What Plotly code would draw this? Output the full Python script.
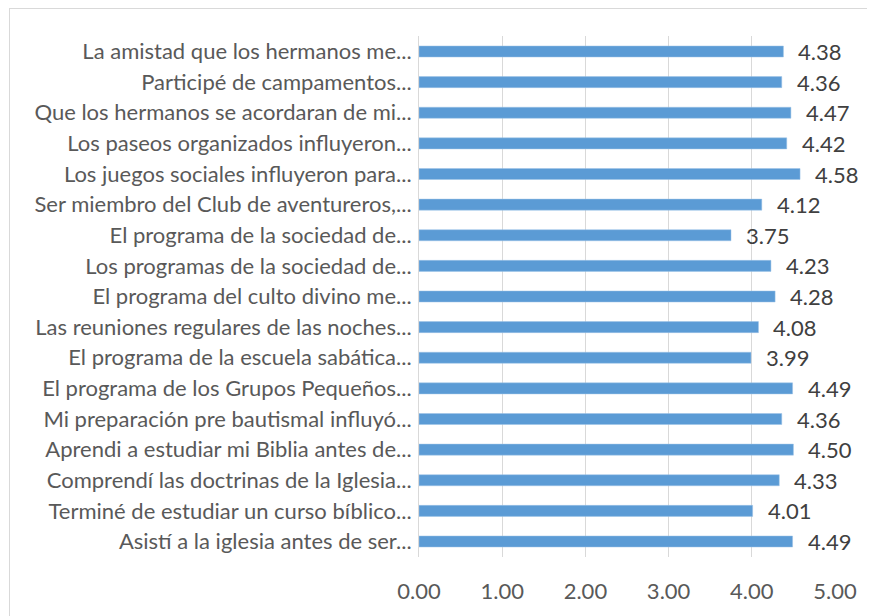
import plotly.graph_objects as go

categories = [
    "La amistad que los hermanos me...",
    "Participé de campamentos...",
    "Que los hermanos se acordaran de mi...",
    "Los paseos organizados influyeron...",
    "Los juegos sociales influyeron para...",
    "Ser miembro del Club de aventureros,...",
    "El programa de la sociedad de...",
    "Los programas de la sociedad de...",
    "El programa del culto divino me...",
    "Las reuniones regulares de las noches...",
    "El programa de la escuela sabática...",
    "El programa de los Grupos Pequeños...",
    "Mi preparación pre bautismal influyó...",
    "Aprendi a estudiar mi Biblia antes de...",
    "Comprendí las doctrinas de la Iglesia...",
    "Terminé de estudiar un curso bíblico...",
    "Asistí a la iglesia antes de ser...",
]
values = [4.38, 4.36, 4.47, 4.42, 4.58, 4.12, 3.75, 4.23, 4.28, 4.08, 3.99, 4.49, 4.36, 4.50, 4.33, 4.01, 4.49]
x_ticks = [0, 1, 2, 3, 4, 5]

FONT = "Lato"
FS = 22

# page body has an 8px margin; figure coords = screen coords - 8
L, T = 411, 28          # plot area left/top in figure coords
R_EDGE, B_EDGE = 827, 549
PW, PH = R_EDGE - L, B_EDGE - T

fig = go.Figure(go.Bar(
    y=categories,
    x=values,
    orientation="h",
    marker=dict(color="#5B9BD5", line=dict(color="#9DC3E6", width=0.5)),
))

for c, v in zip(categories, values):
    fig.add_annotation(
        x=v, y=c, xref="x", yref="y",
        text=f"{v:.2f}", showarrow=False,
        xanchor="left", yanchor="middle", xshift=13,
        font=dict(family=FONT, size=FS, color="#404040"),
    )

fig.update_layout(
    width=875, height=616,
    margin=dict(l=L, r=875 - R_EDGE, t=T, b=616 - B_EDGE),
    paper_bgcolor="white",
    plot_bgcolor="white",
    bargap=0.64,
    showlegend=False,
    font=dict(family=FONT, size=FS, color="#595959"),
    xaxis=dict(
        range=[0, 5],
        tickvals=x_ticks,
        tickformat=".2f",
        showgrid=True,
        gridcolor="#D9D9D9",
        gridwidth=1,
        zeroline=False,
        showline=False,
        ticks="",
        ticklabelstandoff=19,
        automargin=False,
        tickfont=dict(family=FONT, size=FS, color="#595959"),
        fixedrange=True,
    ),
    yaxis=dict(
        autorange="reversed",
        showline=True,
        linecolor="#D9D9D9",
        linewidth=1,
        ticks="",
        ticklabelstandoff=2,
        automargin=False,
        tickfont=dict(family=FONT, size=FS, color="#595959"),
        showgrid=False,
    ),
    shapes=[
        dict(type="line", xref="paper", yref="paper",
             x0=(1 - L) / PW, x1=(880 - L) / PW,
             y0=(B_EDGE - 0.5) / PH, y1=(B_EDGE - 0.5) / PH,
             line=dict(color="#D9D9D9", width=1)),
        dict(type="line", xref="paper", yref="paper",
             x0=(1.5 - L) / PW, x1=(1.5 - L) / PW,
             y0=(B_EDGE - 0) / PH, y1=(B_EDGE - 620) / PH,
             line=dict(color="#D9D9D9", width=1)),
    ],
)

fig.write_html("out.html")
